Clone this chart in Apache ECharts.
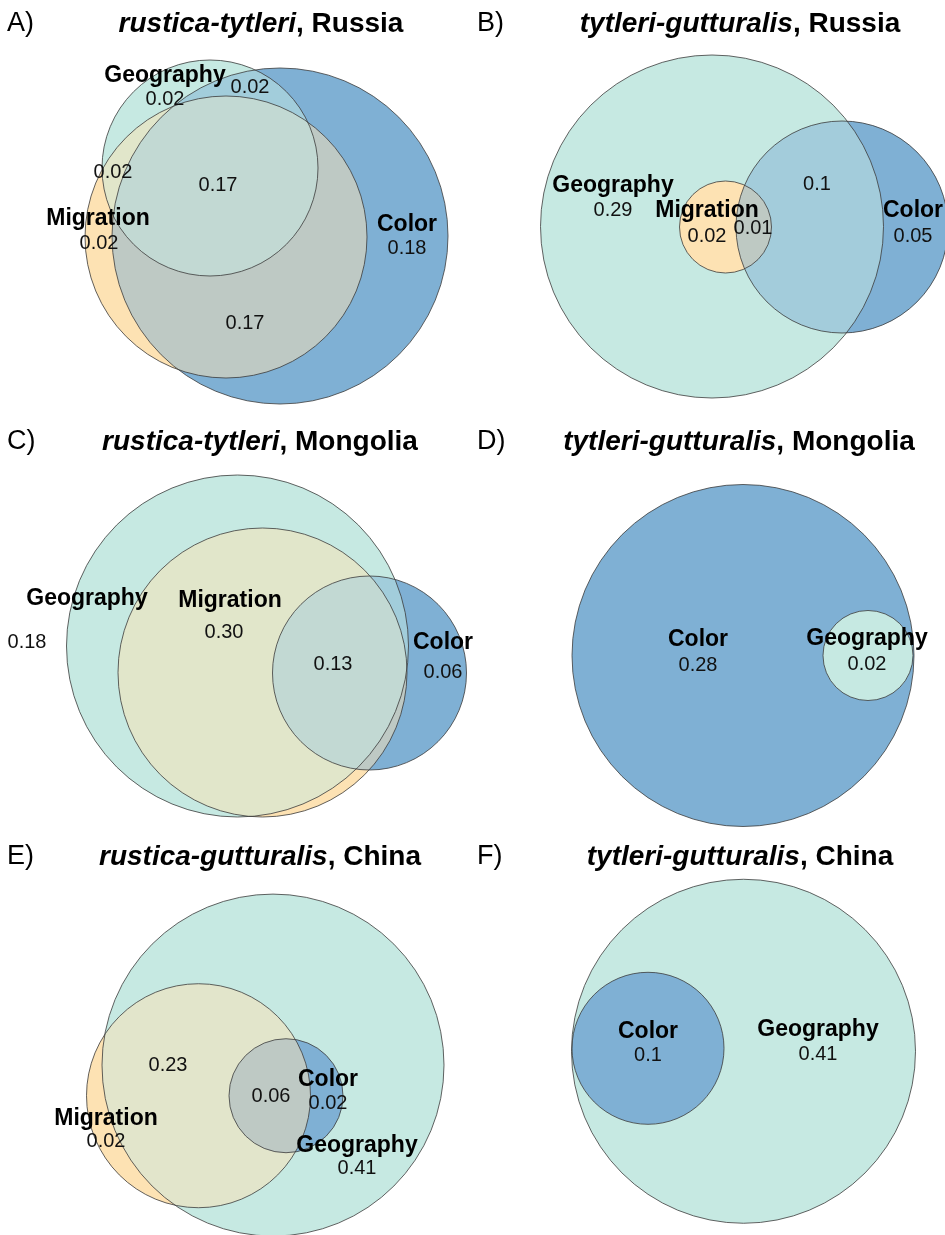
<!DOCTYPE html>
<html>
<head>
<meta charset="utf-8">
<script src="https://cdn.jsdelivr.net/npm/echarts@6/dist/echarts.min.js"></script>
<style>
  html, body { margin: 0; padding: 0; background: #fff; }
  #chart { width: 945px; height: 1235px; }
</style>
</head>
<body>
<div id="chart"></div>
<script>
// ---- data ----
const setNames = ['Geography', 'Migration', 'Color'];
const setColors = ['#c6e9e2', '#fde2b3', '#7fb0d4'];

const panelLetters = ['A)', 'B)', 'C)', 'D)', 'E)', 'F)'];
const panelPairs = ['rustica-tytleri', 'tytleri-gutturalis', 'rustica-tytleri',
  'tytleri-gutturalis', 'rustica-gutturalis', 'tytleri-gutturalis'];
const panelCountries = ['Russia', 'Russia', 'Mongolia', 'Mongolia', 'China', 'China'];

// circles: [set, centre x, centre y, radius] in panel layout units
const circlesA = [['Geography', 210, 168, 108], ['Migration', 226, 237, 141], ['Color', 280, 236, 168]];
const circlesB = [['Geography', 242, 226.5, 171.5], ['Migration', 255.5, 227, 46], ['Color', 372, 227, 106]];
const circlesC = [['Geography', 237.5, 236, 171], ['Migration', 262.5, 262.5, 144.5], ['Color', 369.5, 263, 97]];
const circlesD = [['Color', 273, 245.5, 171], ['Geography', 398, 245.5, 45]];
const circlesE = [['Geography', 273, 238, 171], ['Migration', 198.5, 269, 112], ['Color', 286, 269, 57]];
const circlesF = [['Geography', 273.5, 224, 172], ['Color', 178, 221, 76]];

// set labels: [text, x, y]
const namesA = [['Geography', 165, 76], ['Migration', 98, 219], ['Color', 407, 225]];
const namesB = [['Geography', 143, 186], ['Migration', 237, 211], ['Color', 443, 211]];
const namesC = [['Geography', 87, 189], ['Migration', 230, 191], ['Color', 443, 233]];
const namesD = [['Color', 228, 230], ['Geography', 397, 229]];
const namesE = [['Color', 328, 253], ['Migration', 106, 292], ['Geography', 357, 320]];
const namesF = [['Color', 178, 204], ['Geography', 348, 202]];

// region values: [text, x, y]
const valuesA = [['0.02', 165, 99], ['0.02', 250, 87], ['0.02', 113, 172], ['0.17', 218, 185],
  ['0.02', 99, 243], ['0.18', 407, 248], ['0.17', 245, 323]];
const valuesB = [['0.29', 143, 210], ['0.02', 237, 236], ['0.01', 283, 228], ['0.1', 347, 184], ['0.05', 443, 236]];
const valuesC = [['0.18', 27, 232], ['0.30', 224, 222], ['0.13', 333, 254], ['0.06', 443, 262]];
const valuesD = [['0.28', 228, 255], ['0.02', 397, 254]];
const valuesE = [['0.23', 168, 238], ['0.06', 271, 270], ['0.02', 328, 277], ['0.02', 106, 315], ['0.41', 357, 343]];
const valuesF = [['0.1', 178, 228], ['0.41', 348, 227]];

// ---- layout ----
const panels = [
  { circles: circlesA, names: namesA, values: valuesA },
  { circles: circlesB, names: namesB, values: valuesB },
  { circles: circlesC, names: namesC, values: valuesC },
  { circles: circlesD, names: namesD, values: valuesD },
  { circles: circlesE, names: namesE, values: valuesE },
  { circles: circlesF, names: namesF, values: valuesF },
];

// paint order: opaque fills first, then half-transparent overlays to mix overlaps
const layering = [
  { order: ['Geography', 'Migration', 'Color'], overlay: ['Migration', 'Geography'] },
  { order: ['Color', 'Geography', 'Migration'], overlay: ['Color'] },
  { order: ['Geography', 'Migration', 'Color'], overlay: ['Migration', 'Geography'] },
  { order: ['Color', 'Geography'], overlay: [] },
  { order: ['Migration', 'Geography', 'Color'], overlay: ['Migration'] },
  { order: ['Geography', 'Color'], overlay: [] },
];

const rowTop = [0, 410, 830];
const titleY = [24, 442, 857];
const titleX = [261, 740, 260, 739, 260, 740];
const FONT = '"Liberation Sans", Arial, Helvetica, sans-serif';

function renderCircle(params, api) {
  const c = api.coord([api.value(0), api.value(1)]);
  const r = api.size([api.value(2), 0])[0];
  const kind = api.value(3);
  const color = setColors[api.value(4)];
  let style;
  if (kind === 2) {
    style = { fill: 'none', stroke: 'rgba(60,60,60,0.8)', lineWidth: 1 };
  } else {
    style = { fill: color, opacity: kind === 1 ? 0.5 : 1 };
  }
  return { type: 'circle', shape: { cx: c[0], cy: c[1], r: r }, style: style, silent: true };
}

function labelSeries(i, rows, extra) {
  return {
    type: 'scatter',
    xAxisIndex: i,
    yAxisIndex: i,
    symbolSize: 1,
    itemStyle: { color: 'rgba(0,0,0,0)', opacity: 1 },
    silent: true,
    animation: false,
    z: 5,
    data: rows.map(d => ({ name: d[0], value: [d[1], d[2]] })),
    label: Object.assign({
      show: true,
      position: 'inside',
      formatter: '{b}',
      color: '#000',
      opacity: 1,
      fontFamily: FONT,
      textBorderWidth: 0,
      textBorderColor: 'transparent',
      textShadowBlur: 0,
    }, extra),
  };
}

const grids = [], xAxes = [], yAxes = [], series = [], graphics = [];

panels.forEach((p, i) => {
  const col = i % 2, row = Math.floor(i / 2);
  grids.push({ left: col * 470, top: rowTop[row], width: 475, height: 410 });
  xAxes.push({ type: 'value', gridIndex: i, min: 0, max: 475, show: false });
  yAxes.push({ type: 'value', gridIndex: i, min: 0, max: 410, inverse: true, show: false });

  const bySet = {};
  p.circles.forEach(c => { bySet[c[0]] = c; });
  const items = [];
  layering[i].order.forEach(n => {
    const c = bySet[n];
    items.push([c[1], c[2], c[3], 0, setNames.indexOf(n)]);
  });
  layering[i].overlay.forEach(n => {
    const c = bySet[n];
    items.push([c[1], c[2], c[3], 1, setNames.indexOf(n)]);
  });
  p.circles.forEach(c => {
    items.push([c[1], c[2], c[3], 2, setNames.indexOf(c[0])]);
  });

  series.push({
    type: 'custom',
    xAxisIndex: i,
    yAxisIndex: i,
    renderItem: renderCircle,
    data: items,
    silent: true,
    animation: false,
  });

  series.push(labelSeries(i, p.names, { fontWeight: 'bold', fontSize: 23 }));
  series.push(labelSeries(i, p.values, { fontSize: 20, color: '#111' }));

  graphics.push({
    type: 'text',
    x: col * 470 + 7,
    y: titleY[row],
    z: 10,
    style: {
      text: panelLetters[i],
      fill: '#000',
      font: '27px ' + FONT,
      align: 'left',
      verticalAlign: 'middle',
    },
  });
  graphics.push({
    type: 'text',
    x: titleX[i],
    y: titleY[row],
    z: 10,
    style: {
      text: '{i|' + panelPairs[i] + '}{b|, ' + panelCountries[i] + '}',
      align: 'center',
      verticalAlign: 'middle',
      rich: {
        i: { fontFamily: FONT, fontSize: 28, fontWeight: 'bold', fontStyle: 'italic', fill: '#000' },
        b: { fontFamily: FONT, fontSize: 28, fontWeight: 'bold', fill: '#000' },
      },
    },
  });
});

const chart = echarts.init(document.getElementById('chart'), null, { renderer: 'canvas' });
chart.setOption({
  backgroundColor: '#fff',
  animation: false,
  grid: grids,
  xAxis: xAxes,
  yAxis: yAxes,
  series: series,
  graphic: graphics,
});
</script>
</body>
</html>
